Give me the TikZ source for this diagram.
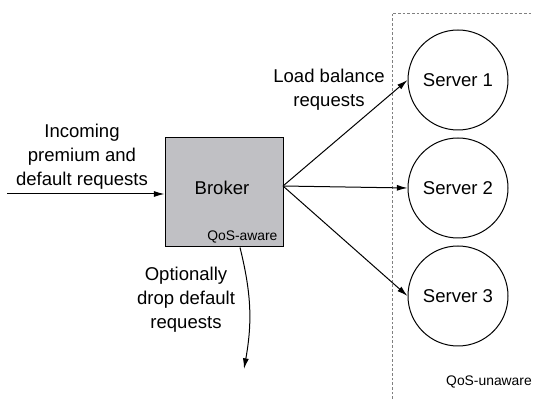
\documentclass[tikz,border=0pt]{standalone}
\usepackage{fontspec}
\setmainfont{Liberation Sans}
\usetikzlibrary{arrows.meta}
\definecolor{brokergray}{RGB}{192,192,196}
\begin{document}
\begin{tikzpicture}[x=0.75pt, y=-0.75pt, font=\fontsize{13.9}{18}\selectfont, main/.style = {draw, circle, line width=0.75pt, minimum size=75pt, inner sep=0pt}]
	\tikzset{edge/.style = {line width=0.75pt, -{Latex[length=8pt, width=4.5pt]}}}
	\useasboundingbox (0,0) rectangle (533,399);
	
		\draw[gray, dashed, dash pattern=on 2pt off 1.5pt, line width=0.5pt] (392,399) -- (392,13) -- (533,13);
		
		\node[draw, line width=0.75pt, fill=brokergray, minimum width=88.5pt, minimum height=81.75pt] (b) at (224,192.5) {};
		\node (bl) at (222,188) {Broker};
		\node[font=\fontsize{10.4}{12}\selectfont, anchor=south east, inner sep=1pt] (qa) at (279,245) {QoS-aware};
		
		\node[main] (s1) at (458,80) {Server 1};
		\node[main] (s2) at (458,188) {Server 2};
		\node[main] (s3) at (458,296) {Server 3};
		\node[font=\fontsize{10.4}{12}\selectfont] (qu) at (489,382) {QoS-unaware};
		
		\node[align=center] (il) at (82,157) {Incoming\\premium and\\default requests};
		\node[align=center] (ll) at (329,90) {Load balance\\requests};
		\node[align=center] (dl) at (186,300) {Optionally\\drop default\\requests};
		
		\coordinate (in) at (7,194);
		\coordinate (out) at (283,186);
		\coordinate (drop) at (244,369);
		
		\draw[edge] (in) -- (in -| b.west);
		\draw[edge] (out) -- (s1.west);
		\draw[edge] (out) -- (s2.west);
		\draw[edge] (out) -- (s3.west);
		\draw[edge] (b.south -| 240,0) to[bend left=12] (drop);
	\end{tikzpicture}
\end{document}
